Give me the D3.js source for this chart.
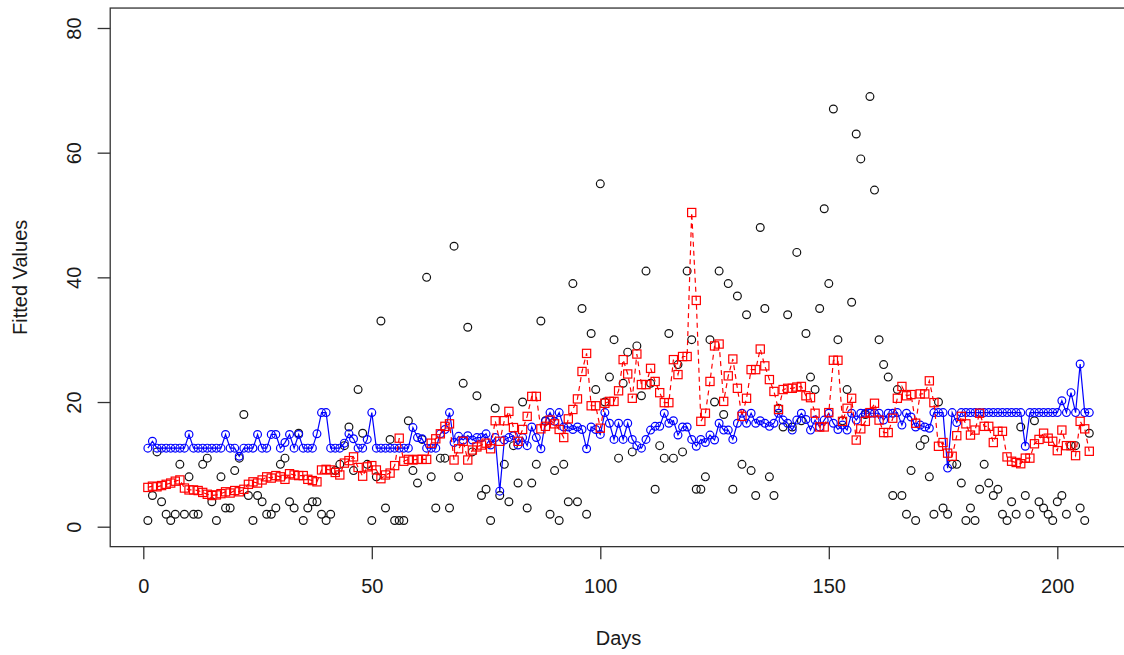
<!DOCTYPE html>
<html>
<head>
<meta charset="utf-8">
<script src="https://cdnjs.cloudflare.com/ajax/libs/d3/7.8.5/d3.min.js"></script>
<style>
  body { margin: 0; background: #fff; }
  svg text { font-family: "Liberation Sans", Arial, sans-serif; fill: #1a1a1a; }
</style>
</head>
<body>
<svg id="chart" width="1124" height="655"></svg>
<script>
// observed counts (black circles), day 1..207
var observed = [
  1, 5, 12, 4, 2, 1, 2, 10, 2, 8,
  2, 2, 10, 11, 4, 1, 8, 3, 3, 9,
  11, 18, 5, 1, 5, 4, 2, 2, 3, 10,
  11, 4, 3, 15, 1, 3, 4, 4, 2, 1,
  2, 9, 10, 13, 16, 9, 22, 15, 10, 1,
  8, 33, 3, 14, 1, 1, 1, 17, 9, 7,
  14, 40, 8, 3, 11, 11, 3, 45, 8, 23,
  32, 12, 21, 5, 6, 1, 19, 5, 10, 4,
  13, 7, 20, 3, 7, 10, 33, 17, 2, 9,
  1, 10, 4, 39, 4, 35, 2, 31, 22, 55,
  20, 24, 30, 11, 23, 28, 12, 29, 21, 41,
  23, 6, 13, 11, 31, 11, 26, 12, 41, 30,
  6, 6, 8, 30, 20, 41, 18, 39, 6, 37,
  10, 34, 9, 5, 48, 35, 8, 5, 19, 16,
  34, 16, 44, 17, 31, 24, 22, 35, 51, 39,
  67, 30, 17, 22, 36, 63, 59, 18, 69, 54,
  30, 26, 24, 5, 22, 5, 2, 9, 1, 13,
  14, 8, 2, 20, 3, 2, 10, 10, 7, 1,
  3, 1, 6, 10, 7, 5, 6, 2, 1, 4,
  2, 16, 5, 2, 17, 4, 3, 2, 1, 4,
  5, 2, 13, 13, 3, 1, 15
];

// first fitted model (blue circles, solid line)
var fitBlue = [
  12.6, 13.7, 12.6, 12.6, 12.6, 12.6, 12.6, 12.6, 12.6, 14.8,
  12.6, 12.6, 12.6, 12.6, 12.6, 12.6, 12.6, 14.8, 12.6, 12.6,
  11.3, 12.6, 12.6, 12.6, 14.8, 12.6, 12.6, 14.8, 14.8, 12.6,
  13.5, 14.8, 12.6, 14.8, 12.6, 12.6, 12.6, 14.9, 18.3, 18.3,
  12.6, 12.6, 12.6, 13.4, 14.9, 14.1, 12.6, 12.6, 14.0, 18.3,
  12.6, 12.6, 12.6, 12.6, 12.6, 12.6, 12.6, 12.6, 15.9, 14.3,
  14.1, 12.6, 12.6, 12.6, 14.9, 15.6, 18.3, 13.5, 14.5, 13.9,
  14.6, 13.9, 14.3, 14.3, 14.9, 13.1, 14.3, 5.7, 13.9, 14.3,
  14.6, 13.1, 14.3, 13.0, 16.0, 14.3, 12.5, 16.9, 18.3, 16.9,
  18.3, 16.0, 16.0, 15.6, 16.0, 15.6, 12.5, 16.0, 15.6, 14.8,
  18.3, 16.6, 14.0, 16.6, 14.0, 16.6, 14.0, 13.0, 12.6, 14.0,
  15.5, 16.1, 16.1, 18.2, 16.6, 17.0, 14.7, 16.0, 16.0, 14.0,
  12.9, 14.0, 13.5, 14.7, 13.9, 16.6, 15.5, 15.5, 14.0, 16.6,
  18.2, 16.6, 18.2, 16.6, 17.0, 16.6, 16.1, 16.6, 18.2, 17.1,
  16.6, 15.5, 17.1, 18.2, 17.2, 15.5, 17.1, 16.0, 17.1, 18.2,
  16.6, 15.6, 16.3, 15.5, 18.2, 17.1, 18.2, 18.2, 18.2, 18.2,
  18.2, 17.1, 18.2, 18.2, 18.3, 16.3, 18.2, 17.6, 16.0, 16.3,
  16.0, 15.8, 18.3, 18.3, 18.3, 9.4, 18.3, 16.7, 18.3, 18.3,
  18.3, 18.3, 18.3, 18.3, 18.3, 18.3, 18.3, 18.3, 18.3, 18.3,
  18.3, 18.3, 12.9, 18.3, 18.3, 18.3, 18.3, 18.3, 18.3, 18.3,
  20.2, 18.3, 21.5, 18.3, 26.1, 18.3, 18.3
];

// second fitted model (red squares, dashed line)
var fitRed = [
  6.3, 6.5, 6.4, 6.6, 6.8, 7.0, 7.3, 7.5, 6.2, 5.9,
  5.9, 5.8, 5.5, 5.2, 5.0, 5.1, 5.3, 5.6, 5.4, 5.8,
  5.6, 6.0, 6.8, 7.2, 7.0, 7.5, 8.0, 7.8, 8.2, 8.0,
  7.6, 8.5, 8.3, 8.2, 8.2, 7.6, 7.4, 7.2, 9.1, 9.2,
  9.1, 8.7, 8.3, 10.2, 10.6, 11.2, 9.5, 8.1, 9.6, 9.8,
  9.1, 7.7, 8.3, 8.6, 9.8, 14.2, 10.5, 10.8, 10.7, 10.8,
  10.8, 10.8, 13.4, 14.1, 14.9, 16.1, 16.5, 10.7, 12.5, 13.7,
  10.7, 12.3, 12.8, 13.1, 13.4, 12.5, 17.0, 13.7, 17.0, 18.5,
  15.9, 13.7, 15.6, 17.7, 20.9, 20.9, 15.7, 16.1, 17.1, 16.5,
  15.6, 14.3, 17.3, 18.8, 20.5, 24.9, 27.8, 19.4, 19.4, 15.8,
  19.8, 20.1, 20.1, 21.8, 26.8, 24.5, 20.6, 27.7, 22.8, 22.8,
  25.4, 23.3, 21.5, 19.9, 19.9, 26.8, 24.4, 27.3, 27.3, 50.4,
  36.3, 16.9, 18.2, 23.3, 29.0, 29.3, 20.1, 24.2, 26.9, 22.2,
  17.7, 20.6, 25.2, 25.2, 28.5, 25.8, 23.6, 21.7, 18.8, 22.0,
  22.2, 22.2, 22.4, 22.5, 21.0, 20.7, 18.2, 16.0, 16.0, 18.3,
  26.7, 26.7, 16.9, 19.0, 20.6, 13.9, 15.7, 16.9, 18.3, 19.8,
  17.1, 15.1, 15.1, 17.4, 20.6, 22.5, 21.0, 21.2, 16.6, 21.3,
  21.3, 23.4, 19.9, 12.9, 13.5, 11.8, 11.3, 14.6, 17.7, 16.5,
  14.7, 15.5, 18.2, 16.1, 16.1, 13.5, 15.3, 15.3, 11.2, 10.5,
  10.3, 10.1, 11.0, 11.0, 13.3, 14.0, 15.0, 14.2, 13.7, 12.2,
  15.5, 13.0, 13.0, 11.4, 16.9, 15.7, 12.1
];

var xTicks = [0, 50, 100, 150, 200];
var yTicks = [0, 20, 40, 60, 80];

var svg = d3.select("#chart");
svg.append("rect").attr("width", 1124).attr("height", 655).attr("fill", "#fff");

// R style: limits padded by 4% on each side
var x = d3.scaleLinear().domain([0, 200]).range([143.3, 1057.3]);
var y = d3.scaleLinear().domain([0, 80]).range([526.7, 28]);
var xLo = x(1 - 0.04 * 206), xHi = x(207 + 0.04 * 206);
var yLo = y(-3.2), yHi = y(83.2);

var days = d3.range(1, observed.length + 1);

// observed points
svg.append("g").selectAll("circle")
  .data(observed)
  .join("circle")
  .attr("cx", function(d, i) { return x(days[i]); })
  .attr("cy", function(d) { return y(d); })
  .attr("r", 3.9)
  .attr("fill", "none")
  .attr("stroke", "#111")
  .attr("stroke-width", 1.2);

// blue fit
var line = d3.line()
  .x(function(d, i) { return x(days[i]); })
  .y(function(d) { return y(d); });

svg.append("path")
  .datum(fitBlue)
  .attr("d", line)
  .attr("fill", "none")
  .attr("stroke", "#0000ff")
  .attr("stroke-width", 1.2);

svg.append("g").selectAll("circle")
  .data(fitBlue)
  .join("circle")
  .attr("cx", function(d, i) { return x(days[i]); })
  .attr("cy", function(d) { return y(d); })
  .attr("r", 3.9)
  .attr("fill", "none")
  .attr("stroke", "#0000ff")
  .attr("stroke-width", 1.2);

// red fit
svg.append("path")
  .datum(fitRed)
  .attr("d", line)
  .attr("fill", "none")
  .attr("stroke", "#ff0000")
  .attr("stroke-width", 1.2)
  .attr("stroke-dasharray", "5,4");

var sq = 8.2;
svg.append("g").selectAll("rect")
  .data(fitRed)
  .join("rect")
  .attr("x", function(d, i) { return x(days[i]) - sq / 2; })
  .attr("y", function(d) { return y(d) - sq / 2; })
  .attr("width", sq)
  .attr("height", sq)
  .attr("fill", "none")
  .attr("stroke", "#ff0000")
  .attr("stroke-width", 1.2);

// plot box
svg.append("rect")
  .attr("x", xLo).attr("y", yHi)
  .attr("width", xHi - xLo).attr("height", yLo - yHi)
  .attr("fill", "none")
  .attr("stroke", "#333")
  .attr("stroke-width", 1.3);

// x axis
var gx = svg.append("g")
  .attr("transform", "translate(0," + yLo + ")")
  .call(d3.axisBottom(x).tickValues(xTicks).tickSize(12.6).tickSizeOuter(0).tickPadding(19.5));
gx.select(".domain").remove();
gx.selectAll("line").attr("stroke", "#333").attr("stroke-width", 1.3);
gx.selectAll("text").style("font-size", "20px").attr("fill", "#1a1a1a");

// y axis
var gy = svg.append("g")
  .attr("transform", "translate(" + xLo + ",0)")
  .call(d3.axisLeft(y).tickValues(yTicks).tickSize(12.6).tickSizeOuter(0));
gy.select(".domain").remove();
gy.selectAll("line").attr("stroke", "#333").attr("stroke-width", 1.3);
gy.selectAll("text")
  .attr("x", null).attr("dy", null)
  .attr("text-anchor", "middle")
  .attr("transform", "translate(-29.5,0) rotate(-90)")
  .style("font-size", "20px")
  .attr("fill", "#1a1a1a");

// axis titles
svg.append("text")
  .attr("x", (xLo + xHi) / 2)
  .attr("y", 645)
  .attr("text-anchor", "middle")
  .style("font-size", "20px")
  .text("Days");

svg.append("text")
  .attr("transform", "translate(26.5," + ((yLo + yHi) / 2) + ") rotate(-90)")
  .attr("text-anchor", "middle")
  .style("font-size", "20px")
  .text("Fitted Values");
</script>
</body>
</html>
